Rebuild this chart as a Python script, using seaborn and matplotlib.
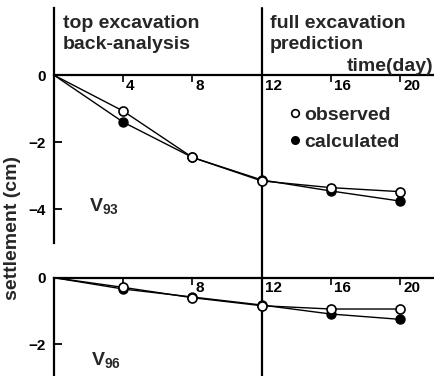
import matplotlib
matplotlib.use("Agg")
import matplotlib.pyplot as plt
import matplotlib.transforms as mtransforms
from matplotlib.lines import Line2D
import seaborn as sns

# Settlement records at two gauges
days = [0, 4, 8, 12, 16, 20]
v93_observed = [0, -1.07, -2.45, -3.15, -3.35, -3.47]
v93_calculated = [0, -1.40, -2.45, -3.12, -3.45, -3.75]
v96_observed = [0, -0.29, -0.60, -0.84, -0.94, -0.94]
v96_calculated = [0, -0.34, -0.58, -0.82, -1.09, -1.25]

x_ticks = [4, 8, 12, 16, 20]
top_xlabels = ["4", "8", "12", "16", "20"]
bottom_xlabels = ["", "8", "12", "16", "20"]
stage_split = 12

sns.set_theme(style="white")
plt.rcParams["font.family"] = ["Liberation Sans", "DejaVu Sans"]
plt.rcParams["font.weight"] = "bold"
plt.rcParams["mathtext.fontset"] = "custom"
plt.rcParams["mathtext.bf"] = "Liberation Sans:bold"
plt.rcParams["mathtext.rm"] = "Liberation Sans:bold"
plt.rcParams["mathtext.it"] = "Liberation Sans:bold"

W, H = 435, 376
fig = plt.figure(figsize=(W / 100, H / 100), dpi=100)
fig.patch.set_facecolor("white")

def px_box(left, top, right, bottom):
    return [left / W, 1 - bottom / H, (right - left) / W, (bottom - top) / H]

ax_top = fig.add_axes(px_box(54, 8, 435, 276.6))
ax_bot = fig.add_axes(px_box(54, 277.7, 435, 376))

FS = 14
TICK_FS = 11
AXIS_LW = 1.6


def draw_series(ax, obs, calc):
    # the origin is a shared start point and carries no marker
    sns.lineplot(x=days, y=calc, ax=ax, color="black", linewidth=1.0,
                 marker="o", markersize=6.5, markerfacecolor="black",
                 markeredgecolor="black", markeredgewidth=1.0,
                 markevery=list(range(1, len(days))),
                 clip_on=False, zorder=4, legend=False)
    sns.lineplot(x=days, y=obs, ax=ax, color="black", linewidth=1.0,
                 marker="o", markersize=6.5, markerfacecolor="white",
                 markeredgecolor="black", markeredgewidth=1.2,
                 markevery=list(range(1, len(days))),
                 clip_on=False, zorder=5, legend=False)


def style_axes(ax, ylim, yticks, spine_bounds, xlabels):
    ax.set_xlim(0, 22.02)
    ax.set_ylim(*ylim)
    ax.patch.set_alpha(0)
    for side in ("top", "right"):
        ax.spines[side].set_visible(False)
    ax.spines["left"].set_linewidth(AXIS_LW)
    ax.spines["left"].set_color("black")
    ax.spines["left"].set_bounds(*spine_bounds)
    ax.spines["bottom"].set_position(("data", 0))
    ax.spines["bottom"].set_linewidth(AXIS_LW)
    ax.spines["bottom"].set_color("black")
    ax.set_yticks(yticks)
    ax.set_xticks(x_ticks)
    ax.set_xticklabels(xlabels)
    ax.tick_params(axis="y", direction="in", length=6, width=1.3,
                   pad=6, labelsize=TICK_FS, colors="black", left=True)
    ax.tick_params(axis="x", direction="out", length=5, width=1.2,
                   pad=-2.5, labelsize=TICK_FS, colors="black", bottom=True)
    shift = mtransforms.ScaledTranslation(3 / 100, 0, fig.dpi_scale_trans)
    for lab in ax.get_xticklabels():
        lab.set_horizontalalignment("left")
        lab.set_transform(lab.get_transform() + shift)
    ax.axvline(stage_split, color="black", linewidth=AXIS_LW,
               ymax=1.0, clip_on=False, zorder=3)
    ax.set_xlabel("")
    ax.set_ylabel("")


draw_series(ax_top, v93_observed, v93_calculated)
draw_series(ax_bot, v96_observed, v96_calculated)

style_axes(ax_top, (-6, 2), [-4, -2, 0], (-5, 2), top_xlabels)
style_axes(ax_bot, (-2.95, 0), [-2, 0], (-2.95, 0), bottom_xlabels)

# stage headings
ax_top.text(0.52, 1.40, "top excavation", fontsize=FS, ha="left", va="baseline")
ax_top.text(0.52, 0.78, "back-analysis", fontsize=FS, ha="left", va="baseline")
ax_top.text(12.49, 1.40, "full excavation", fontsize=FS, ha="left", va="baseline")
ax_top.text(12.49, 0.78, "prediction", fontsize=FS, ha="left", va="baseline")
ax_top.text(21.9, 0.12, "time(day)", fontsize=FS, ha="right", va="baseline")

# gauge names
ax_top.text(2.02, -4.05, r"V$_{\mathbf{93}}$", fontsize=FS, ha="left", va="baseline")
ax_bot.text(2.14, -2.61, r"V$_{\mathbf{96}}$", fontsize=FS, ha="left", va="baseline")

fig.text(13 / W, 1 - 228 / H, "settlement (cm)", rotation=90, fontsize=FS,
         ha="center", va="center")

handles = [
    Line2D([], [], linestyle="none", marker="o", markersize=5.5,
           markerfacecolor="white", markeredgecolor="black", markeredgewidth=1.2),
    Line2D([], [], linestyle="none", marker="o", markersize=5.5,
           markerfacecolor="black", markeredgecolor="black"),
]
ax_top.legend(handles, ["observed", "calculated"], loc="upper left",
              bbox_to_anchor=(290 / W, 1 - 106 / H), bbox_transform=fig.transFigure,
              frameon=False, handlelength=0.5, handletextpad=0.25,
              labelspacing=0.5, borderpad=0, borderaxespad=0,
              prop={"size": FS, "weight": "bold"})

fig.savefig("out.png", dpi=100, facecolor="white")
